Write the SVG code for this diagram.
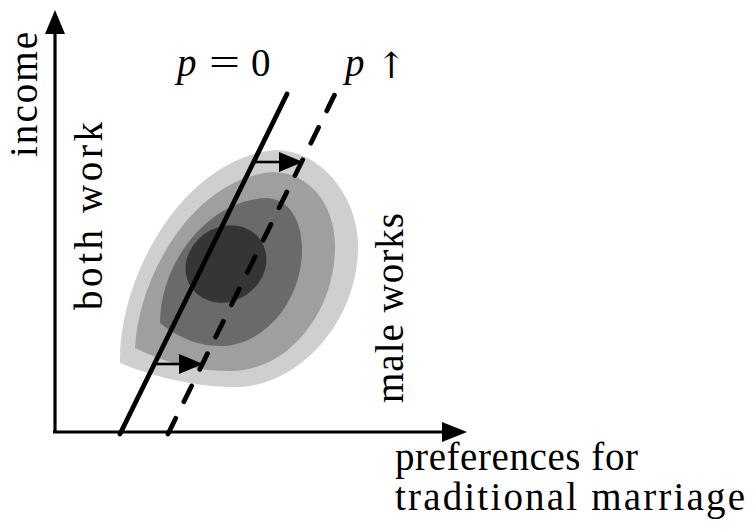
<svg xmlns="http://www.w3.org/2000/svg" width="753" height="531" viewBox="0 0 753 531">
<style>
.ax{stroke:#000;stroke-width:3.2;fill:none}
.ln{stroke:#000;stroke-width:4.8;fill:none;stroke-linecap:round}
.ar{stroke:#000;stroke-width:2.6;fill:none}
.hd{fill:#000;stroke:none}
</style>
<rect width="753" height="531" fill="#fff"/>
<g id="density">
<path fill="#cfcfcf" d="M120,363 C118,280 180,160 275,150 C320,150 358,195 358,247 C358,320 300,387 235,387 C190,387 150,375 120,363 Z"/>
<path fill="#9f9f9f" d="M135,348 C138,280 190,180 272,172 C310,172 335,205 335,247 C335,310 290,371 230,371 C190,371 160,360 135,348 Z"/>
<path fill="#6a6a6a" d="M160,323 C160,265 205,202 265,198 C290,198 302,222 302,250 C302,300 265,346 220,346 C195,346 175,335 160,323 Z"/>
<ellipse fill="#353535" cx="226" cy="264" rx="42" ry="37" transform="rotate(-35 226 264)"/>
</g>
<g id="axes">
<line class="ax" x1="55" y1="433" x2="55" y2="30"/>
<line class="ax" x1="53" y1="432" x2="445" y2="432"/>
<polygon class="hd" points="55,10 45,34 65,34"/>
<polygon class="hd" points="467,432 442,422 442,442"/>
</g>
<g id="connectors">
<line class="ln" x1="120" y1="434" x2="287" y2="94"/>
<line class="ln" x1="168" y1="434" x2="335" y2="94" stroke-dasharray="17.5 18.5"/>
<line class="ar" x1="253" y1="162" x2="282" y2="162"/>
<polygon class="hd" points="303,162 279,152 279,172"/>
<line class="ar" x1="154" y1="364" x2="182" y2="364"/>
<polygon class="hd" points="203,364 179,354 179,374"/>
</g>
<g id="labels" font-family="Liberation Serif, serif" font-size="39" fill="#000">
<text transform="translate(37,157) rotate(-90)" textLength="125">income</text>
<text transform="translate(102,310) rotate(-90)" textLength="188">both work</text>
<text transform="translate(403,403) rotate(-90)" textLength="190">male works</text>
<text x="395" y="470" textLength="243">preferences for</text>
<text x="395" y="510" textLength="350">traditional marriage</text>
<text font-style="italic" x="177" y="76">p</text>
<text x="209" y="76" textLength="31" lengthAdjust="spacingAndGlyphs">=</text>
<text x="251" y="76">0</text>
<text font-style="italic" x="345" y="76">p</text>
<text font-family="DejaVu Serif, serif" font-size="36" x="376" y="78">&#x2191;</text>
</g>
</svg>
